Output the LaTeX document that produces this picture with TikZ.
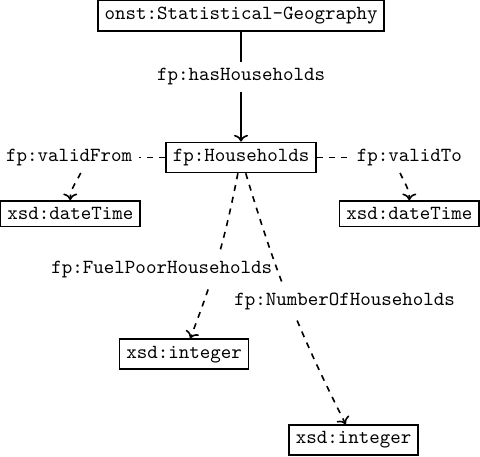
\documentclass[tikz,border=0pt]{standalone}
\usetikzlibrary{positioning,arrows.meta}

\begin{document}
\begin{tikzpicture}[
  font=\ttfamily,
  cls/.style={rectangle,draw=black,thick,inner sep=3.33pt},
  lbl/.style={rectangle,fill=white,inner sep=3.33pt},
  arr/.style={-{To},thick},
  dsh/.style={thick,dashed},
]
\useasboundingbox (0,0) rectangle (240pt,-228pt);
\node[cls] (geo) at (120.5pt,-7.9pt) {onst:Statistical-Geography};
\node[cls,below=19.3mm of geo] (hh) {fp:Households};
\node[lbl,left=4.6mm of hh] (from) {fp:validFrom};
\node[lbl,right=5.8mm of hh] (to) {fp:validTo};
\node[cls,below=4.8mm of from,xshift=0.6pt] (dtfrom) {xsd:dateTime};
\node[cls,below=4.8mm of to] (dtto) {xsd:dateTime};
\node[cls,below=29mm of hh,xshift=-10mm] (intfuel) {xsd:integer};
\node[cls,below=44.1mm of hh,xshift=19.8mm] (intnum) {xsd:integer};

\draw[arr] (geo) -- node[lbl,pos=0.41] (has) {fp:hasHouseholds} (hh);
\draw[dsh] (hh) -- (from);
\draw[dsh] (hh) -- (to);
\draw[dsh,arr] (from.-53) to[out=-115,in=90] (dtfrom);
\draw[dsh,arr] (to.-121) to[out=-65,in=90] (dtto);
\draw[dsh,arr] (hh) to[bend left=5] node[lbl,pos=0.58,xshift=-9.3mm] (fuel) {fp:FuelPoorHouseholds} (intfuel);
\draw[dsh,arr] (hh) to[bend right=5] node[lbl,pos=0.5,xshift=9.7mm] (num) {fp:NumberOfHouseholds} (intnum);
\end{tikzpicture}
\end{document}
